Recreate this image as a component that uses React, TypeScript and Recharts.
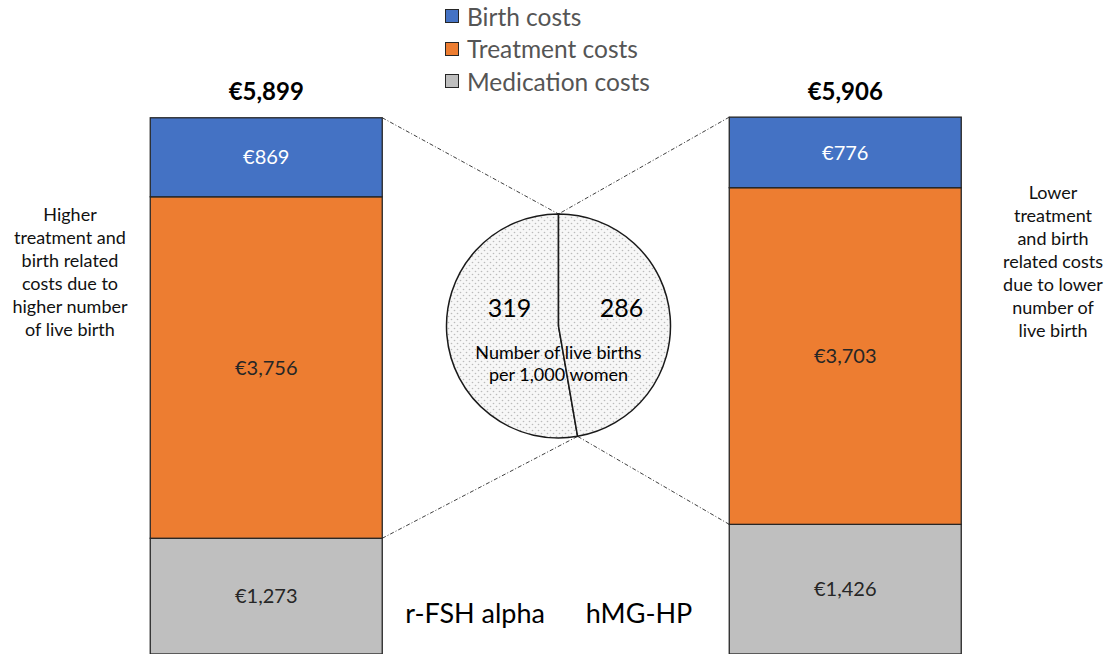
import React from 'react';
import { BarChart, Bar, XAxis, YAxis, LabelList, Legend, PieChart, Pie, Cell } from 'recharts';

const CATEGORIES = ['r-FSH alpha', 'hMG-HP'];
const MEDICATION = [1273, 1426];
const TREATMENT = [3756, 3703];
const BIRTH = [869, 776];
const TOTALS = [5899, 5906];
const LIVE_BIRTHS = [319, 286];

const NOTE_LEFT = ['Higher', 'treatment and', 'birth related', 'costs due to', 'higher number', 'of live birth'];
const NOTE_RIGHT = ['Lower', 'treatment', 'and birth', 'related costs', 'due to lower', 'number of', 'live birth'];
const PIE_CAPTION = ['Number of live births', 'per 1,000 women'];

const SERIES = [
  { key: 'medication', name: 'Medication costs', color: '#BFBFBF', text: '#262626' },
  { key: 'treatment', name: 'Treatment costs', color: '#ED7D31', text: '#262626' },
  { key: 'birth', name: 'Birth costs', color: '#4472C4', text: '#FFFFFF' },
];

const W = 1108;
const H = 654;
const FONT = 'Lato, "Open Sans", sans-serif';
const EDGE = '#262626';

// pie geometry, shared with the connector lines
const PIE_CX = 558.5;
const PIE_CY = 326;
const PIE_R = 112;
const birthSum = LIVE_BIRTHS[0] + LIVE_BIRTHS[1];
const splitAngle = ((90 + (360 * LIVE_BIRTHS[0]) / birthSum) * Math.PI) / 180;
const PIE_TOP = { x: PIE_CX, y: PIE_CY - PIE_R };
const PIE_BOTTOM = { x: PIE_CX + PIE_R * Math.cos(splitAngle), y: PIE_CY - PIE_R * Math.sin(splitAngle) };

// two bars with an empty slot in the middle for the pie
const bars = CATEGORIES.map((name, i) => ({
  name,
  medication: MEDICATION[i],
  treatment: TREATMENT[i],
  birth: BIRTH[i],
  total: TOTALS[i],
}));
const rows: any[] = [bars[0], { name: ' ' }, bars[1]];

const euro = (v: any) => (v == null ? '' : '€' + Number(v).toLocaleString('en-US'));

const segment = (target?: { x: number; y: number }) => (props: any) => {
  const { x, y, width, height, fill, index } = props;
  if (!height || height <= 0) return <g />;
  const sx = index === 0 ? x + width : x;
  return (
    <g>
      <rect x={x} y={y} width={width} height={height} fill={fill} stroke={EDGE} strokeWidth={1.3} />
      {target && (
        <line x1={sx} y1={y} x2={target.x} y2={target.y} stroke="#404040" strokeWidth={1} strokeDasharray="4 2 1 2" />
      )}
    </g>
  );
};

const TotalLabel = (props: any) => {
  const { x, y, width, value } = props;
  if (value == null) return null;
  return (
    <text x={x + width / 2} y={y - 27} textAnchor="middle" dominantBaseline="central" fontFamily={FONT} fontWeight={700} fontSize={24} fill="#000">
      {euro(value)}
    </text>
  );
};

const NameLabel = (props: any) => {
  const { x, y, width, height, value, index } = props;
  if (!value || !value.trim()) return null;
  const left = index === 0;
  return (
    <text
      x={left ? x + width + 23 : x - 37}
      y={y + height - 42}
      textAnchor={left ? 'start' : 'end'}
      dominantBaseline="central"
      fontFamily={FONT}
      fontSize={27}
      fill="#000"
    >
      {value}
    </text>
  );
};

const LegendBox = () => (
  <div style={{ fontFamily: FONT, fontSize: 24.5, color: '#555' }}>
    {[...SERIES].reverse().map((s) => (
      <div key={s.key} style={{ display: 'flex', alignItems: 'center', height: 32.5 }}>
        <span style={{ width: 12, height: 12, background: s.color, border: `1.5px solid ${EDGE}`, marginRight: 8 }} />
        <span>{s.name}</span>
      </div>
    ))}
  </div>
);

const Note = ({ lines, x, y }: { lines: string[]; x: number; y: number }) => (
  <text x={x} y={y} textAnchor="middle" fontFamily={FONT} fontSize={18} fill="#111">
    {lines.map((l, i) => (
      <tspan key={i} x={x} dy={i === 0 ? 0 : 23}>
        {l}
      </tspan>
    ))}
  </text>
);

const PieNumber = (props: any) => {
  const { cx, cy, midAngle, value, index } = props;
  const side = Math.cos((midAngle * Math.PI) / 180) > 0 ? 1 : -1;
  return (
    <g>
      <text x={cx + side * PIE_R * 0.5 + 7} y={cy - 19} textAnchor="middle" dominantBaseline="central" fontFamily={FONT} fontSize={25} fill="#000">
        {value}
      </text>
      {index === 0 && (
        <text x={cx} y={cy + 26} textAnchor="middle" dominantBaseline="central" fontFamily={FONT} fontSize={18} fill="#000">
          {PIE_CAPTION.map((l, i) => (
            <tspan key={i} x={cx} dy={i === 0 ? 0 : 22}>
              {l}
            </tspan>
          ))}
        </text>
      )}
    </g>
  );
};

export default function App() {
  return (
    <div style={{ position: 'absolute', left: 0, top: 0, width: W, height: H, overflow: 'hidden', background: '#fff' }}>
      <BarChart
        width={W}
        height={H}
        data={rows}
        margin={{ top: 108.5, right: 118.25, bottom: 0, left: 121.25 }}
        barSize={232}
      >
        <XAxis dataKey="name" type="category" hide />
        <YAxis type="number" domain={[0, 6000]} hide />
        <Legend
          layout="horizontal"
          verticalAlign="middle"
          align="center"
          content={() => <LegendBox />}
          wrapperStyle={{ position: 'absolute', top: 0, left: 445, width: 260 }}
        />
        {SERIES.map((s) => (
          <Bar
            key={s.key}
            dataKey={s.key}
            name={s.name}
            stackId="cost"
            fill={s.color}
            isAnimationActive={false}
            shape={segment(s.key === 'birth' ? PIE_TOP : s.key === 'medication' ? PIE_BOTTOM : undefined)}
          >
            <LabelList dataKey={s.key} position="center" formatter={euro} fill={s.text} fontFamily={FONT} fontSize={20} />
            {s.key === 'birth' && <LabelList dataKey="total" content={TotalLabel} />}
            {s.key === 'medication' && <LabelList dataKey="name" content={NameLabel} />}
          </Bar>
        ))}
        <Note lines={NOTE_LEFT} x={70} y={221} />
        <Note lines={NOTE_RIGHT} x={1053} y={199} />
      </BarChart>
      <div style={{ position: 'absolute', left: 0, top: 0, pointerEvents: 'none' }}>
        <PieChart width={W} height={H} margin={{ top: 0, right: 0, bottom: 0, left: 0 }}>
          <defs>
            <pattern id="dots" width="6" height="6" patternUnits="userSpaceOnUse">
              <rect width="6" height="6" fill="#f7f7f7" />
              <circle cx="1.5" cy="1.5" r="0.8" fill="#bbb" />
              <circle cx="4.5" cy="4.5" r="0.8" fill="#bbb" />
            </pattern>
          </defs>
          <Pie
            data={LIVE_BIRTHS.map((v, i) => ({ name: CATEGORIES[i], value: v }))}
            dataKey="value"
            cx={PIE_CX}
            cy={PIE_CY}
            outerRadius={PIE_R}
            startAngle={90}
            endAngle={450}
            stroke="#1a1a1a"
            strokeWidth={1.5}
            label={PieNumber}
            labelLine={false}
            isAnimationActive={false}
          >
            {LIVE_BIRTHS.map((_, i) => (
              <Cell key={i} fill="url(#dots)" />
            ))}
          </Pie>
        </PieChart>
      </div>
    </div>
  );
}
